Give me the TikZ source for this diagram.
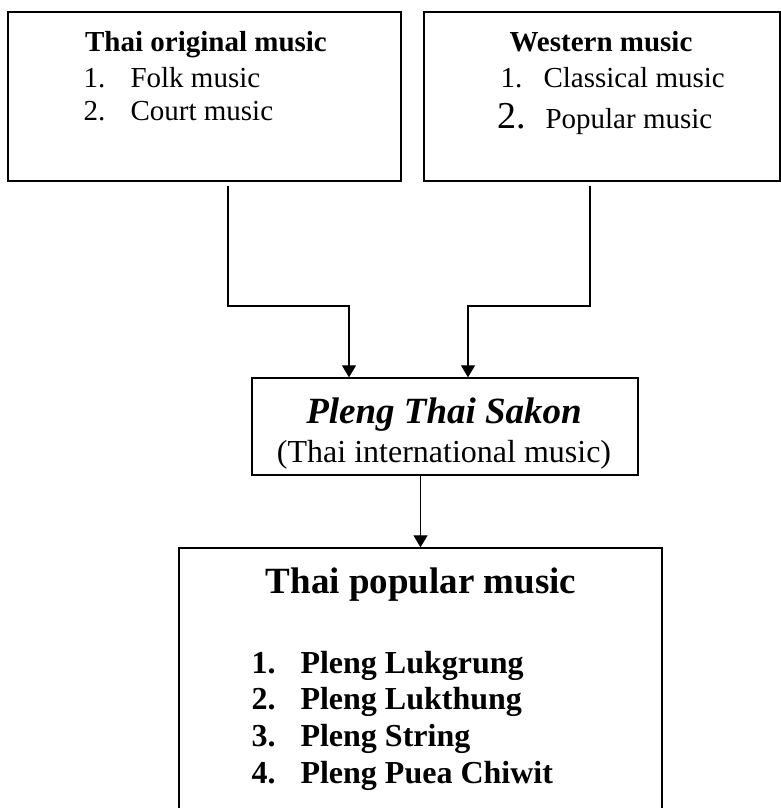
\documentclass[tikz,border=0pt]{standalone}
\usepackage{fontspec}
\setmainfont{Liberation Serif}
\usetikzlibrary{arrows.meta}

\tikzset{
  musicbox/.style={draw,line width=1.4pt,inner sep=0pt,rectangle},
  link/.style={line width=1.3pt,-{Triangle[length=12pt,width=14pt]}},
  boxtitle/.style={anchor=base,font=\fontsize{29}{34}\selectfont\bfseries},
  item/.style={anchor=base west,font=\fontsize{29}{34}\selectfont},
  bignum/.style={anchor=base west,font=\fontsize{38}{44}\selectfont},
  sakontitle/.style={anchor=base,font=\fontsize{37}{44}\selectfont\bfseries\itshape},
  sakonsub/.style={anchor=base,font=\fontsize{32}{38}\selectfont},
  bigtitle/.style={anchor=base,font=\fontsize{37}{44}\selectfont\bfseries},
  bigitem/.style={anchor=base west,font=\fontsize{32}{38}\selectfont\bfseries}
}

\begin{document}
\begin{tikzpicture}[x=1pt,y=-1pt]
\useasboundingbox (0,0) rectangle (781,808);

% the four boxes
\node[musicbox,minimum width=393pt,minimum height=169pt] (orig) at (204.5,96.5) {};
\node[musicbox,minimum width=356pt,minimum height=169pt] (west) at (602,96.5) {};
\node[musicbox,minimum width=386pt,minimum height=97pt] (sakon) at (445,426.5) {};
\node[musicbox,minimum width=483pt,minimum height=264pt] (popular) at (420.5,680) {};

% Thai original music
\node[boxtitle] (origtitle) at (206,52) {Thai original music};
\node[item] (orignum1) at (80,87) {1.};
\node[item] (folk) at (127,87) {Folk music};
\node[item] (orignum2) at (80,120) {2.};
\node[item] (court) at (127,120) {Court music};

% Western music
\node[boxtitle] (westtitle) at (601,52) {Western music};
\node[item] (westnum1) at (497,87) {1.};
\node[item] (classical) at (540,87) {Classical music};
\node[bignum] (westnum2) at (494,128) {2.};
\node[item] (popmusic) at (542,128) {Popular music};

% Pleng Thai Sakon
\node[sakontitle] (sakonname) at (444,423) {Pleng Thai Sakon};
\node[sakonsub] (sakonnote) at (444,462) {(Thai international music)};

% Thai popular music
\node[bigtitle] (poptitle) at (421,593) {Thai popular music};
\node[bigitem] (popnum1) at (248,673) {1.};
\node[bigitem] (lukgrung) at (297,673) {Pleng Lukgrung};
\node[bigitem] (popnum2) at (248,709) {2.};
\node[bigitem] (lukthung) at (297,709) {Pleng Lukthung};
\node[bigitem] (popnum3) at (248,746) {3.};
\node[bigitem] (string) at (297,746) {Pleng String};
\node[bigitem] (popnum4) at (248,783) {4.};
\node[bigitem] (chiwit) at (297,783) {Pleng Puea Chiwit};

% connectors
\coordinate (bendl) at (228,306);
\coordinate (bendr) at (590,306);
\draw[link] (bendl |- orig.south) ++(0,4) -- (bendl) -| ([xshift=-96pt]sakon.north);
\draw[link] (bendr |- west.south) ++(0,4) -- (bendr) -| ([xshift=23pt]sakon.north);
\draw[link] (popular.north |- sakon.south) -- (popular.north);

\end{tikzpicture}
\end{document}
